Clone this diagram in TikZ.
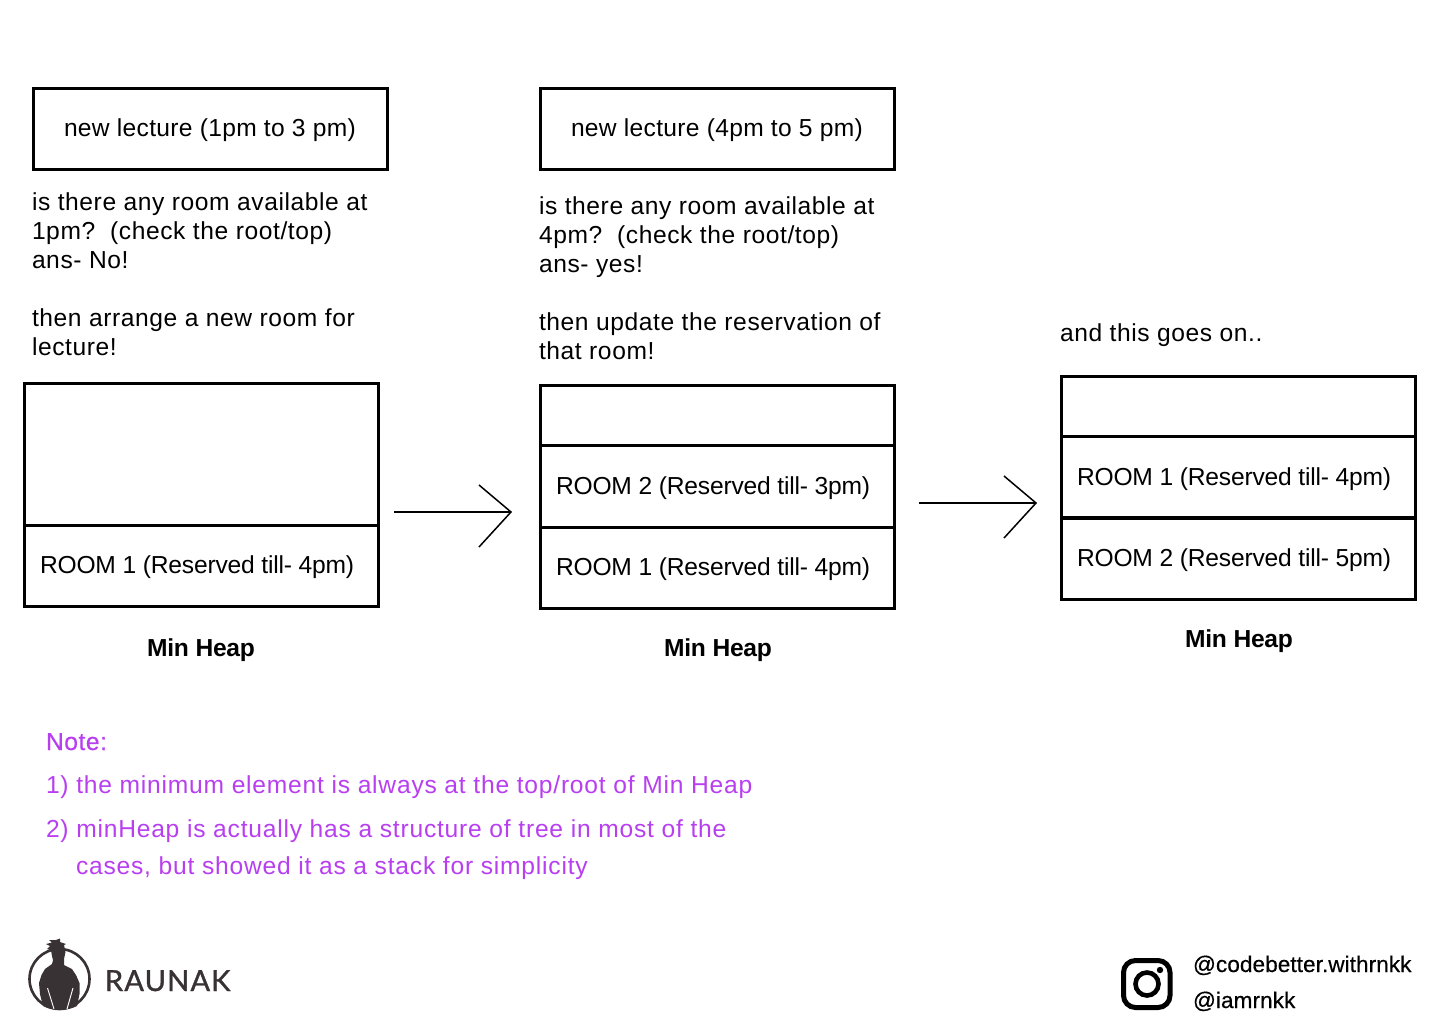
\documentclass[tikz,border=0pt]{standalone}
\usepackage{fontspec}
\setmainfont{Liberation Sans}
\newfontfamily\logofont[FakeBold=1.2,LetterSpace=4]{Lato}
\definecolor{notepurple}{HTML}{B83FF0}
\definecolor{logodark}{HTML}{393234}
\newcommand{\bodyfont}{\fontsize{24.6}{29}\selectfont}
\newcommand{\handlefont}{\fontsize{22.6}{27}\selectfont}
\tikzset{
  x=1pt,y=-1pt,
  every node/.style={inner sep=0pt,outer sep=0pt},
  boxcell/.style={draw=black,line width=3pt,minimum width=354pt,anchor=north west},
  lectxt/.style={anchor=base west,font=\bodyfont\addfontfeatures{LetterSpace=1.3},text=black},
  roomtxt/.style={anchor=base west,font=\bodyfont\addfontfeatures{LetterSpace=-0.8},text=black},
  plaintxt/.style={anchor=base west,font=\bodyfont\addfontfeatures{LetterSpace=2.4},text=black},
  para/.style={anchor=north west,font=\bodyfont\addfontfeatures{LetterSpace=2.4},align=left,text=black},
  heading/.style={anchor=base,font=\bodyfont\bfseries\addfontfeatures{LetterSpace=-1},text=black},
  notetxt/.style={anchor=base west,font=\bodyfont\addfontfeatures{LetterSpace=3.2},text=notepurple},
  notehead/.style={anchor=base west,font=\bodyfont\addfontfeatures{LetterSpace=2.2,FakeBold=0.4},text=notepurple},
  conn/.style={draw=black,line width=1.5pt},
  handle/.style={anchor=base west,font=\handlefont\addfontfeatures{LetterSpace=0.2,FakeBold=0.4},text=black},
}
\begin{document}
\begin{tikzpicture}
\useasboundingbox (0,0) rectangle (1440,1024);
\fill[white] (0,0) rectangle (1440,1024);

% lecture boxes
\node[boxcell,minimum height=81.5pt] (lecA) at (33,88.5) {};
\node[lectxt] (lecAt) at (64,137) {new lecture (1pm to 3 pm)};
\node[boxcell,minimum height=81.5pt] (lecB) at (540,88.5) {};
\node[lectxt] (lecBt) at (571,137) {new lecture (4pm to 5 pm)};

% explanations
\node[para] (qA) at (32,193) {is there any room available at\\1pm?\ \ (check the root/top)\\ans- No!\\[29pt]then arrange a new room for\\lecture!};
\node[para] (qB) at (539,197) {is there any room available at\\4pm?\ \ (check the root/top)\\ans- yes!\\[29pt]then update the reservation of\\that room!};
\node[plaintxt] (qC) at (1060,341) {and this goes on..};

% heap 1
\node[boxcell,minimum height=142pt] (h1top) at (24,383) {};
\node[boxcell,minimum height=81pt] (h1a) at (24,525) {};
\node[roomtxt] at (40,573) {ROOM 1 (Reserved till- 4pm)};
\node[heading] (h1l) at (201,656) {Min Heap};

% heap 2
\node[boxcell,minimum height=60pt] (h2top) at (540,385) {};
\node[boxcell,minimum height=82pt] (h2a) at (540,445) {};
\node[roomtxt] at (556,494) {ROOM 2 (Reserved till- 3pm)};
\node[boxcell,minimum height=81pt] (h2b) at (540,527) {};
\node[roomtxt] at (556,575) {ROOM 1 (Reserved till- 4pm)};
\node[heading] (h2l) at (718,656) {Min Heap};

% heap 3
\node[boxcell,minimum height=60pt] (h3top) at (1061,376) {};
\node[boxcell,minimum height=81pt] (h3a) at (1061,436.5) {};
\node[roomtxt] at (1077,485) {ROOM 1 (Reserved till- 4pm)};
\node[boxcell,minimum height=81pt] (h3b) at (1061,518) {};
\node[roomtxt] at (1077,566) {ROOM 2 (Reserved till- 5pm)};
\node[heading] (h3l) at (1239,647) {Min Heap};

% arrows
\coordinate (a1s) at (394,512);
\coordinate (a1e) at (511,512);
\coordinate (a1u) at (479,485);
\coordinate (a1d) at (479,547);
\draw[conn] (a1s) -- (a1e);
\draw[conn] (a1u) -- (a1e) -- (a1d);
\coordinate (a2s) at (919,503);
\coordinate (a2e) at (1036,503);
\coordinate (a2u) at (1004,476);
\coordinate (a2d) at (1004,538);
\draw[conn] (a2s) -- (a2e);
\draw[conn] (a2u) -- (a2e) -- (a2d);

% note
\node[notehead] (n0) at (46,750) {Note:};
\node[notetxt] (n1) at (46,793) {1) the minimum element is always at the top/root of Min Heap};
\node[notetxt] (n2) at (46,837) {2) minHeap is actually has a structure of tree in most of the};
\node[notetxt] (n3) at (76,874) {cases, but showed it as a stack for simplicity};

% logo
\draw[logodark,line width=2.6pt] (59.5,979) circle (30);
\fill[logodark] (52,964) -- (45,969) -- (41.5,975) -- (39,983) -- (40,994) -- (43,1006)
  .. controls (52,1011) and (68,1011) .. (77,1006)
  -- (79.5,994) -- (79.5,983) -- (76,975) -- (72,969) -- (64,965)
  -- (64,959) -- (65.5,952) -- (64,945) -- (66,944) -- (60,942) -- (60,938.5) -- (56,940) -- (49,940) -- (52,942.5) -- (46,944) -- (50,946) -- (47,949) -- (51,950) -- (52,956) -- (53,960) -- cycle;
\draw[white,line width=.9pt] (47.5,988) -- (54,1009) (73,988) -- (67,1009);
\node[anchor=base west,font=\fontsize{29}{34}\selectfont\logofont,text=logodark] (logo) at (105,991) {RAUNAK};

% instagram
\draw[black,line width=5pt,rounded corners=12pt] (1123.5,960.5) rectangle (1170,1007.5);
\draw[black,line width=4.6pt] (1147,984) circle (11.5);
\fill[black] (1160,970) circle (3.2);
\node[handle] (ig1) at (1193,972) {@codebetter.withrnkk};
\node[handle] (ig2) at (1193,1008) {@iamrnkk};
\end{tikzpicture}
\end{document}
